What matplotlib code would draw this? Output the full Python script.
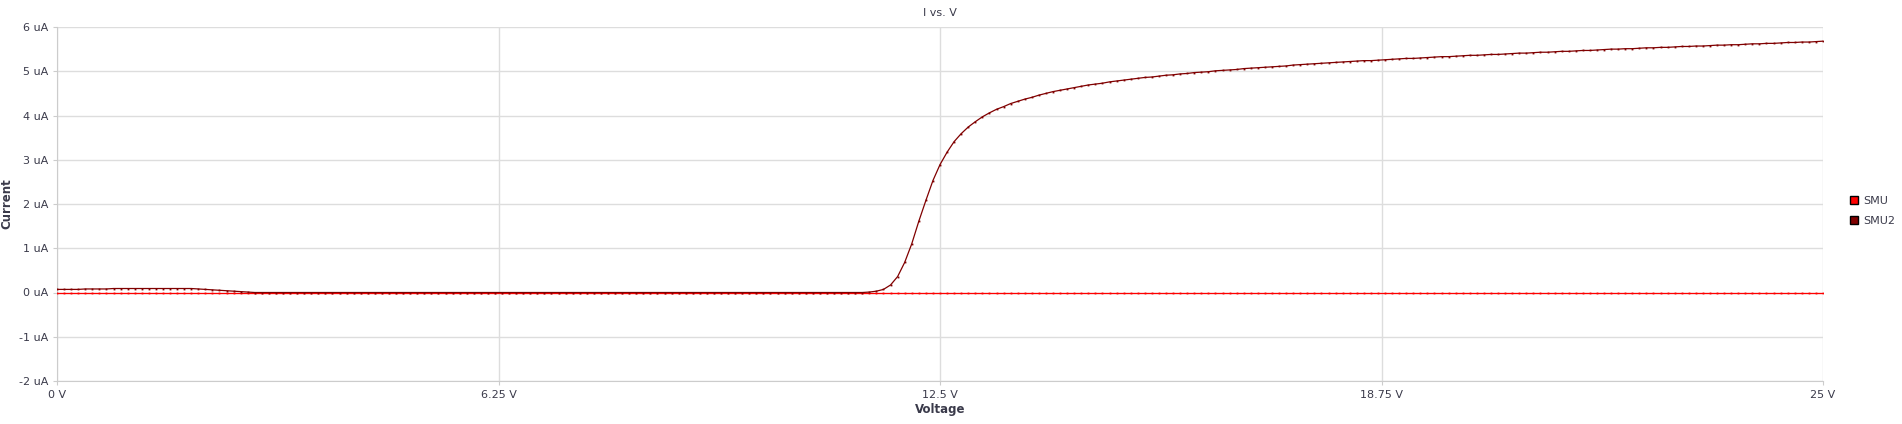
import numpy as np
import matplotlib
matplotlib.use("Agg")
import matplotlib.pyplot as plt
from matplotlib.patches import Patch

voltage = np.round(np.arange(0, 25.0001, 0.1), 2)

# SMU2 current (uA), read at 0.1 V steps
smu2_low = [0.07, 0.07, 0.07, 0.07, 0.08, 0.08, 0.08, 0.08, 0.09, 0.09,
            0.09, 0.09, 0.09, 0.09, 0.09, 0.09, 0.09, 0.09, 0.09, 0.09,
            0.08, 0.07, 0.06, 0.05, 0.04, 0.03, 0.02, 0.01, 0.0, 0.0]
smu2_off = [0.0] * 85
smu2_rise = [0.01, 0.03, 0.07, 0.17, 0.36, 0.68, 1.10, 1.61, 2.08, 2.53,
             2.89, 3.17, 3.41, 3.59, 3.74, 3.86, 3.97, 4.06, 4.14, 4.20]
smu2_sat = [4.27, 4.32, 4.37, 4.41, 4.46, 4.50,
            4.54, 4.57, 4.60, 4.63, 4.66, 4.69, 4.71, 4.73, 4.76, 4.78,
            4.80, 4.82, 4.84, 4.86, 4.87, 4.89, 4.91, 4.92, 4.94, 4.95,
            4.97, 4.98, 4.99, 5.01, 5.02, 5.03, 5.04, 5.06, 5.07, 5.08,
            5.09, 5.10, 5.11, 5.12, 5.14, 5.15, 5.16, 5.17, 5.18, 5.19,
            5.20, 5.21, 5.22, 5.23, 5.24, 5.24, 5.25, 5.26, 5.27, 5.28,
            5.29, 5.29, 5.30, 5.31, 5.32, 5.33, 5.33, 5.34, 5.35, 5.36,
            5.36, 5.37, 5.38, 5.38, 5.39, 5.40, 5.41, 5.41, 5.42, 5.43,
            5.43, 5.44, 5.45, 5.45, 5.46, 5.47, 5.47, 5.48, 5.49, 5.50,
            5.50, 5.51, 5.51, 5.52, 5.53, 5.53, 5.54, 5.54, 5.55, 5.56,
            5.56, 5.57, 5.57, 5.58, 5.59, 5.59, 5.60, 5.60, 5.61, 5.62,
            5.62, 5.63, 5.63, 5.64, 5.65, 5.65, 5.66, 5.66, 5.67, 5.68]
smu2 = smu2_low + smu2_off + smu2_rise + smu2_sat
smu = [0.0] * len(voltage)

x_ticks = [0, 6.25, 12.5, 18.75, 25]
x_labels = ["0 V", "6.25 V", "12.5 V", "18.75 V", "25 V"]
y_ticks = [-2, -1, 0, 1, 2, 3, 4, 5, 6]
y_labels = [f"{v} uA" for v in y_ticks]

plt.rcParams["font.family"] = ["DejaVu Sans"]
text_col = "#3a3a4a"

fig = plt.figure(figsize=(19.02, 4.24), dpi=100)
ax = fig.add_axes([57 / 1902, 1 - 381 / 424, (1823 - 57) / 1902, (381 - 27) / 424])

ax.plot(voltage, smu, color="#ff0000", lw=0.9, marker="s", ms=1.3, mew=0, zorder=3)
ax.plot(voltage, smu2, color="#800000", lw=0.9, marker="s", ms=1.3, mew=0, zorder=4)

ax.set_xlim(0, 25)
ax.set_ylim(-2, 6)
ax.set_xticks(x_ticks, x_labels)
ax.set_yticks(y_ticks, y_labels)
ax.grid(True, color="#dddddd", lw=1)
ax.set_axisbelow(True)
for s in ["top", "right"]:
    ax.spines[s].set_visible(False)
for s in ["left", "bottom"]:
    ax.spines[s].set_color("#cccccc")
ax.tick_params(colors="#cccccc", labelcolor=text_col, labelsize=8, length=3)

ax.set_title("I vs. V", fontsize=8, color=text_col, pad=8)
ax.set_xlabel("Voltage", fontsize=8.5, fontweight="bold", color=text_col, labelpad=2)
ax.set_ylabel("Current", fontsize=8.5, fontweight="bold", color=text_col, labelpad=4)

handles = [Patch(facecolor="#ff0000", edgecolor="black", label="SMU"),
           Patch(facecolor="#800000", edgecolor="black", label="SMU2")]
fig.legend(handles=handles, loc="center left", bbox_to_anchor=(1840 / 1902, 1 - 211 / 424),
           frameon=False, fontsize=8, handlelength=0.7, handleheight=0.7,
           handletextpad=0.5, labelspacing=0.9, labelcolor=text_col)

fig.savefig("out.png", dpi=100, facecolor="white")
